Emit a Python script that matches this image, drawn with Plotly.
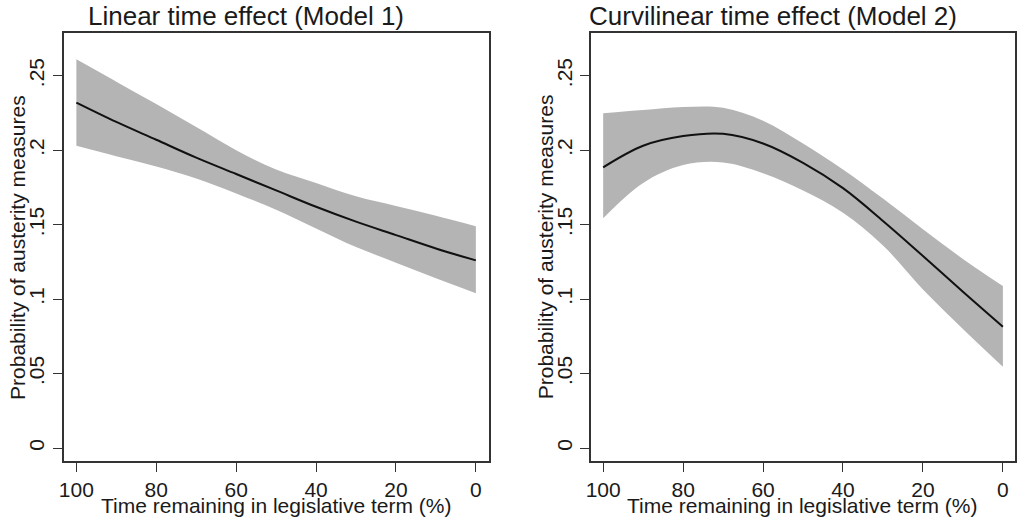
import plotly.graph_objects as go

# ---- data ----
time_remaining = [100, 90, 80, 70, 60, 50, 40, 30, 20, 10, 0]

m1_pred = [0.232, 0.219, 0.207, 0.195, 0.184, 0.173, 0.162, 0.152, 0.143, 0.134, 0.126]
m1_upper = [0.261, 0.246, 0.231, 0.2155, 0.200, 0.187, 0.178, 0.169, 0.1625, 0.156, 0.149]
m1_lower = [0.203, 0.196, 0.189, 0.181, 0.171, 0.160, 0.1475, 0.135, 0.1245, 0.114, 0.104]

m2_pred = [0.1885, 0.203, 0.2095, 0.211, 0.2045, 0.1915, 0.1745, 0.1525, 0.129, 0.105, 0.0815]
m2_upper = [0.2248, 0.227, 0.229, 0.2285, 0.2198, 0.2045, 0.187, 0.1675, 0.147, 0.127, 0.1088]
m2_lower = [0.1543, 0.178, 0.190, 0.1918, 0.1846, 0.173, 0.158, 0.136, 0.1065, 0.080, 0.0546]

panel_titles = ["Linear time effect (Model 1)", "Curvilinear time effect (Model 2)"]
x_title = "Time remaining in legislative term (%)"
y_title = "Probability of austerity measures"
x_tickvals = [100, 80, 60, 40, 20, 0]
y_tickvals = [0, 0.05, 0.1, 0.15, 0.2, 0.25]
y_ticktext = ["0", ".05", ".1", ".15", ".2", ".25"]

W, H = 1017, 519
FONT = "Liberation Sans, Arial, sans-serif"
TXT = "#1a1a1a"
BAND = "#b4b4b4"

fig = go.Figure()

panels = [
    (m1_pred, m1_upper, m1_lower, "x", "y"),
    (m2_pred, m2_upper, m2_lower, "x2", "y2"),
]
for pred, up, lo, xa, ya in panels:
    fig.add_trace(go.Scatter(x=time_remaining, y=up, mode="lines",
                             line=dict(width=0, shape="spline", color=BAND),
                             xaxis=xa, yaxis=ya, showlegend=False, hoverinfo="skip"))
    fig.add_trace(go.Scatter(x=time_remaining, y=lo, mode="lines", fill="tonexty",
                             fillcolor=BAND,
                             line=dict(width=0, shape="spline", color=BAND),
                             xaxis=xa, yaxis=ya, showlegend=False, hoverinfo="skip"))
    fig.add_trace(go.Scatter(x=time_remaining, y=pred, mode="lines",
                             line=dict(width=2, shape="spline", color="#111111"),
                             xaxis=xa, yaxis=ya, showlegend=False))


def px_x(p):
    return p / W


def px_y(p):
    return 1 - p / H


y_dom = [px_y(461), px_y(33)]
x_doms = [[px_x(59), px_x(487)], [px_x(590), 1.0]]
x_ranges = [[103.2, -3.2], [103.06, -3.03]]
y_range = [-0.0087, 0.2787]

common_axis = dict(showline=True, linecolor="#333333", linewidth=1.5, mirror=True,
                   ticks="outside", ticklen=9, tickwidth=1.2, tickcolor="#333333",
                   showgrid=False, zeroline=False,
                   tickfont=dict(family=FONT, size=21, color=TXT))

layout = dict(width=W, height=H, margin=dict(l=0, r=0, t=0, b=0),
              paper_bgcolor="white", plot_bgcolor="white", showlegend=False)

for i in range(2):
    sx = "" if i == 0 else "2"
    layout["xaxis" + sx] = dict(common_axis, domain=x_doms[i], range=x_ranges[i],
                                tickvals=x_tickvals, anchor="y" + sx)
    layout["yaxis" + sx] = dict(common_axis, domain=y_dom, range=y_range,
                                tickvals=y_tickvals, ticktext=y_ticktext,
                                tickangle=-90, anchor="x" + sx)

fig.update_layout(**layout)

annots = []
title_cx = [243, 773.5]
xt_cx = [273, 803.5]
yt_cx = [12, 544]
for i in range(2):
    annots.append(dict(text=panel_titles[i], x=px_x(title_cx[i]), y=px_y(16.5),
                       xref="paper", yref="paper", xanchor="center", yanchor="middle",
                       showarrow=False, font=dict(family=FONT, size=26, color=TXT)))
    annots.append(dict(text=x_title, x=px_x(xt_cx[i]), y=px_y(505),
                       xref="paper", yref="paper", xanchor="center", yanchor="middle",
                       showarrow=False, font=dict(family=FONT, size=21, color=TXT)))
    annots.append(dict(text=y_title, x=px_x(yt_cx[i]), y=px_y(247),
                       xref="paper", yref="paper", xanchor="center", yanchor="middle",
                       textangle=-90, showarrow=False,
                       font=dict(family=FONT, size=21, color=TXT)))
fig.update_layout(annotations=annots)

# remove the default 8px page margin so the figure fills the window exactly
fig.write_html("out.html",
               config={"displayModeBar": False},
               post_script="document.body.style.margin='0';document.body.style.overflow='hidden';")
